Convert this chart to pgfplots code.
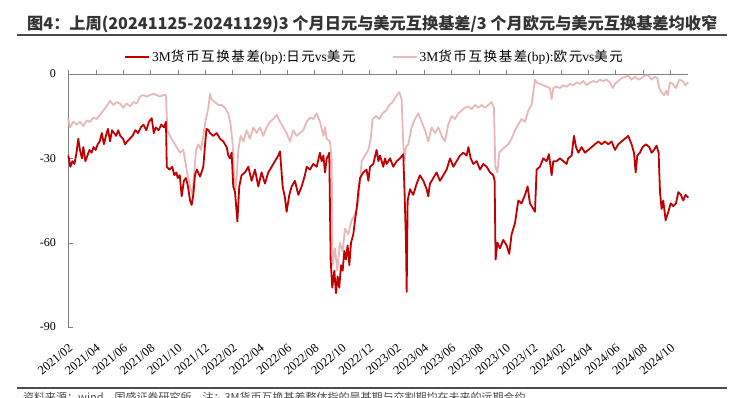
\documentclass[border=0pt]{standalone}
\usepackage{fontspec}
\usepackage{pgfplots}
\pgfplotsset{compat=1.18}
\setmainfont{Liberation Serif}
\newfontfamily\cjk{Noto Sans CJK SC}
\newfontfamily\cjkl[LetterSpace=12]{Noto Sans CJK SC}
\definecolor{jpy}{RGB}{192,0,0}
\definecolor{eur}{RGB}{230,185,184}
\definecolor{axgray}{RGB}{128,128,128}

\pgfplotstableread{
m v
0 -29
0.15 -33
0.3 -31
0.45 -32
0.6 -28
0.73 -23
0.85 -27
1.0 -30
1.1 -26
1.25 -31
1.4 -29
1.55 -27
1.7 -28
1.85 -26
2.0 -27
2.15 -25
2.3 -24
2.45 -21
2.6 -25
2.75 -22
2.9 -19.5
3.05 -24
3.2 -20
3.35 -21
3.5 -22
3.65 -20
3.8 -22
4.0 -23
4.15 -25
4.3 -24
4.5 -23
4.7 -22
4.9 -20
5.1 -21
5.3 -19
5.5 -18
5.7 -20
5.9 -17
6.1 -15.7
6.25 -21
6.4 -19
6.6 -20
6.8 -18
7.0 -19
7.14 -17
7.2 -33
7.4 -34
7.6 -33
7.75 -36
7.9 -35
8.0 -37
8.15 -36
8.29 -43.5
8.45 -38
8.6 -37
8.75 -40
8.9 -45
9.02 -46.6
9.14 -43
9.26 -36
9.4 -34
9.63 -36.5
9.87 -33
10.0 -25
10.11 -19.5
10.25 -20
10.36 -21
10.6 -22
10.85 -21
11.09 -23
11.33 -24
11.58 -26
11.7 -29
11.82 -30
11.94 -28
12.06 -40
12.19 -42
12.36 -52.5
12.5 -40
12.67 -36
12.92 -35
13.16 -33
13.4 -38
13.65 -34
13.89 -40
14.13 -35
14.38 -39
14.62 -35
14.87 -33
15.11 -31
15.35 -29
15.48 -27.5
15.67 -40
15.84 -44
15.96 -49
16.16 -43
16.33 -40
16.57 -38
16.82 -43
17.06 -40
17.3 -36
17.43 -33
17.67 -34
17.91 -32
18.16 -33
18.4 -28
18.52 -31
18.65 -29
18.77 -35
18.89 -30
19.01 -29
19.08 -28
19.18 -66
19.3 -76
19.45 -70
19.57 -78
19.69 -72
19.81 -76
19.94 -68
20.06 -70
20.18 -63
20.3 -66
20.42 -61
20.55 -68
20.67 -60
20.84 -57
20.96 -52
21.08 -48
21.2 -42
21.33 -37
21.57 -35
21.81 -34
21.94 -38
22.06 -33
22.3 -32
22.54 -27
22.67 -31
22.79 -29
23.03 -33
23.15 -30
23.28 -32
23.52 -30
23.76 -33
24.01 -31
24.25 -30
24.49 -28.5
24.59 -43
24.69 -60
24.74 -77.5
24.81 -45
24.98 -41
25.22 -43
25.47 -39
25.71 -36
25.96 -38
26.2 -41
26.32 -43.5
26.44 -39
26.69 -37
26.93 -35
27.17 -38
27.42 -36
27.66 -34
27.91 -30
28.15 -33
28.39 -31
28.64 -29
28.88 -28
29.12 -29
29.25 -26
29.42 -30
29.61 -32
29.86 -31
30.1 -34
30.34 -32
30.59 -33
30.83 -35
31.07 -36
31.17 -38
31.24 -66
31.37 -60
31.56 -62
31.8 -59
32.05 -61
32.24 -64
32.41 -57
32.66 -53
32.9 -45
33.14 -46
33.39 -43
33.58 -40
33.75 -46
34.0 -48
34.12 -49
34.24 -34
34.48 -33
34.73 -30
34.97 -31
35.14 -28.5
35.34 -36
35.46 -31
35.7 -31
35.95 -30
36.19 -31
36.43 -32
36.55 -30
36.8 -29
36.97 -22
37.12 -26
37.29 -28
37.53 -26
37.77 -28
38.02 -27
38.26 -26
38.5 -25
38.75 -24
38.99 -25
39.24 -24
39.48 -25
39.72 -24
39.97 -27
40.21 -25
40.45 -24
40.7 -23
40.94 -22
41.18 -25
41.36 -28
41.48 -35
41.6 -29
41.79 -28
41.99 -26
42.23 -25
42.48 -26
42.65 -28
42.82 -27
43.01 -25.5
43.16 -28
43.26 -42
43.38 -48
43.5 -45
43.67 -52
43.87 -49
44.04 -46
44.23 -47
44.43 -46
44.6 -42
44.79 -43
44.96 -45
45.13 -43
45.33 -44
}\jpytable

\pgfplotstableread{
m v
0 -16
0.12 -19
0.37 -17
0.61 -18
0.86 -17
1.1 -18.5
1.34 -16.5
1.59 -17
1.83 -15.5
2.07 -16
2.32 -14.5
2.56 -13
2.8 -11.5
3.05 -9.5
3.29 -11
3.54 -10
3.78 -10.5
4.02 -12
4.27 -10.5
4.51 -11.5
4.75 -10
5.0 -10.5
5.24 -8
5.49 -7.5
5.73 -8
5.97 -7.5
6.22 -7
6.46 -7.5
6.7 -8
6.95 -7.5
7.14 -7.5
7.24 -20
7.43 -22
7.68 -24
7.92 -26
8.17 -28
8.41 -27
8.65 -34
8.9 -40
9.07 -43
9.21 -35
9.34 -27
9.51 -25
9.7 -27
9.87 -22
10.02 -17
10.24 -12
10.36 -7
10.48 -9
10.72 -10
10.97 -11
11.21 -11
11.45 -12
11.7 -14
11.87 -18
12.02 -25
12.11 -35
12.21 -41
12.31 -37
12.43 -27
12.6 -22
12.8 -24
13.04 -20
13.28 -23
13.53 -19
13.77 -21
14.01 -19
14.26 -22
14.5 -19
14.74 -17
14.99 -16
15.23 -14.5
15.48 -17
15.72 -19
15.96 -21
16.21 -24
16.45 -20
16.69 -22
16.94 -21
17.18 -20
17.43 -17
17.67 -15.5
17.91 -16
18.16 -14
18.4 -17
18.65 -22
18.77 -19
18.89 -23
19.13 -24
19.25 -30
19.33 -68
19.5 -62
19.67 -70
19.86 -60
20.06 -63
20.23 -55
20.47 -57
20.72 -52
20.96 -50
21.2 -46
21.45 -31
21.69 -29
21.94 -27
22.11 -23
22.25 -16
22.5 -15
22.74 -16
22.98 -14
23.23 -13
23.47 -11
23.71 -10
23.96 -8
24.2 -6.5
24.37 -9
24.49 -25
24.59 -31
24.69 -26
24.86 -25
25.1 -19
25.35 -16
25.59 -14
25.83 -17
26.08 -20
26.32 -24
26.56 -19
26.81 -21
27.05 -19
27.3 -22
27.54 -24
27.78 -18
28.03 -15
28.27 -16
28.51 -14
28.76 -13
29.0 -12
29.25 -11.5
29.49 -12.5
29.73 -11
29.98 -12
30.22 -11
30.46 -12
30.71 -11
30.95 -10
31.12 -12
31.22 -33
31.37 -35
31.51 -28
31.68 -27
31.92 -26
32.17 -25
32.41 -23
32.66 -20
32.9 -18
33.14 -16
33.39 -17
33.63 -13
33.87 -11
34.12 -2
34.24 -3
34.48 -3.5
34.73 -4
34.97 -4.5
35.21 -5
35.34 -9
35.46 -5
35.7 -4.5
35.95 -5
36.19 -4
36.43 -4.5
36.68 -3.5
36.92 -4
37.16 -3
37.41 -3.5
37.65 -2.5
37.9 -4
38.14 -3
38.38 -2.5
38.63 -3
38.87 -2
39.11 -2.5
39.36 -2
39.6 -3
39.8 -5
39.97 -3.5
40.21 -2.5
40.45 -1.5
40.7 -1
40.94 -0.5
41.18 -2
41.43 -1
41.67 -2
41.92 -1.5
42.16 -0.5
42.4 -0.5
42.65 -2
42.89 -1
43.06 -1.5
43.21 -5
43.38 -6.5
43.55 -7.5
43.7 -6
43.82 -7.5
43.99 -3
44.19 -3.5
44.43 -5
44.67 -2
44.92 -2.5
45.11 -4
45.33 -3
}\eurtable

\begin{document}
\begin{tikzpicture}
\begin{axis}[
  name=A,
  scale only axis,
  width=620pt, height=253pt,
  xmin=0, xmax=45.33, ymin=-90, ymax=0,
  axis x line*=top, axis y line*=left,
  x axis line style={axgray, -}, y axis line style={axgray, -},
  xtick={0,2,...,44}, xticklabels={},
  xtick align=outside, ytick align=inside,
  major tick length=4.5pt,
  tick style={axgray},
  ytick={0,-30,-60,-90},
  yticklabel style={font=\fontsize{12}{14}\selectfont, xshift=-9pt},
  /pgf/number format/assume math mode=true,
  clip=false,
  legend columns=2,
  legend cell align=left,
  legend style={draw=none, fill=none, at={(0.494,1)}, anchor=center, yshift=17pt,
    font=\fontsize{13.5}{15}\selectfont,
    /tikz/every even column/.append style={column sep=34pt}},
  legend image code/.code={\draw[#1] (0pt,0pt) -- (24pt,0pt);},
]
\addplot[eur, line width=1.8pt, line join=round, forget plot] table[x=m, y=v] {\eurtable};
\addplot[jpy, line width=1.8pt, line join=round, forget plot] table[x=m, y=v] {\jpytable};
\addlegendimage{jpy, line width=2pt}
\addlegendentry{3M{\cjkl 货币互换基差}(bp):{\cjkl 日元}vs{\cjkl 美元}}
\addlegendimage{eur, line width=2pt}
\addlegendentry{3M{\cjkl 货币互换基差}(bp):{\cjkl 欧元}vs{\cjkl 美元}}
\end{axis}

\begin{axis}[
  at={(A.south west)}, anchor=south west,
  scale only axis,
  width=620pt, height=253pt,
  xmin=0, xmax=45.33, ymin=-90, ymax=0,
  axis x line*=bottom, axis y line=none,
  x axis line style={draw=none},
  xtick={0,2,...,44},
  xticklabels={2021/02,2021/04,2021/06,2021/08,2021/10,2021/12,2022/02,2022/04,2022/06,2022/08,2022/10,2022/12,2023/02,2023/04,2023/06,2023/08,2023/10,2023/12,2024/02,2024/04,2024/06,2024/08,2024/10},
  major x tick style={draw=none},
  xticklabel style={xshift=2.7pt, yshift=-19pt, rotate=40, anchor=east, inner sep=0pt, font=\fontsize{12.5}{14}\selectfont},
  ytick=\empty,
]
\end{axis}

\begin{scope}[shift={(A.south west)}, x=1pt, y=1pt]
\begin{scope}[shift={(-68.3,-70)}]
\node[anchor=base west, inner sep=0, font=\cjk\bfseries\fontsize{16.2}{19}\selectfont, text=black!80] at (27,367) {图4：上周(20241125-20241129)3 个月日元与美元互换基差/3 个月欧元与美元互换基差均收窄};
\draw[black!70, line width=1.6pt] (17,362) -- (727,362);
\draw[black!70, line width=1.6pt] (17,9) -- (727,9);
\node[anchor=base west, inner sep=0, font=\cjk\fontsize{11}{13}\selectfont, text=black!70] at (23,-4) {资料来源：wind，国盛证券研究所。注：3M货币互换基差整体指的是基期与交割期均在未来的远期合约};
\pgfresetboundingbox
\path[use as bounding box] (0,0) rectangle (733,397);
\end{scope}
\end{scope}
\end{tikzpicture}
\end{document}
